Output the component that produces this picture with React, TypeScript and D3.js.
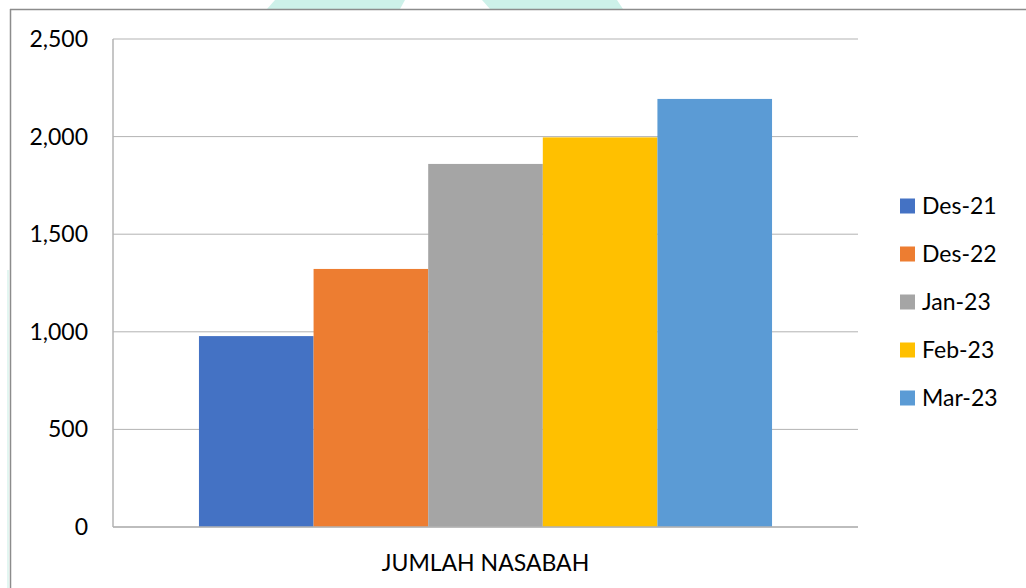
import React from "react";
import * as d3 from "d3";

const categories = ["JUMLAH NASABAH"];
const seriesNames = ["Des-21", "Des-22", "Jan-23", "Feb-23", "Mar-23"];
const seriesValues = [978, 1322, 1860, 1996, 2193];
const seriesColors = ["#4472C4", "#ED7D31", "#A5A5A5", "#FFC000", "#5B9BD5"];
const yTicks = [0, 500, 1000, 1500, 2000, 2500];

const W = 1026;
const H = 588;
const plot = { left: 113, right: 858, top: 39, bottom: 527 };
const FONT = "Lato, 'Open Sans', sans-serif";
const FS = 23;

export default function App() {
  const y = d3.scaleLinear().domain([0, 2500]).range([plot.bottom, plot.top]);
  const xCat = d3
    .scaleBand<string>()
    .domain(categories)
    .range([plot.left, plot.right])
    .paddingInner(0)
    .paddingOuter(0.15);
  const xSer = d3
    .scaleBand<string>()
    .domain(seriesNames)
    .range([0, xCat.bandwidth()])
    .padding(0);
  const fmt = d3.format(",");

  return (
    <svg
      width={W}
      height={H}
      style={{ position: "absolute", left: 0, top: 0, background: "#fff" }}
    >
      {/* faint watermark fragments */}
      <polygon points="275,0 405,0 400,9 267,9" fill="#cdf1e9" />
      <polygon points="482,0 617,0 623,9 490,9" fill="#cdf1e9" />
      <rect x={7} y={270} width={2} height={318} fill="#e3f6f1" />

      {/* chart border */}
      <line x1={10} y1={9.5} x2={W} y2={9.5} stroke="#8c8c8c" strokeWidth={1.5} />
      <line x1={10.5} y1={9} x2={10.5} y2={H} stroke="#8c8c8c" strokeWidth={1.5} />

      {/* gridlines */}
      {yTicks.map((t) => (
        <line
          key={t}
          x1={plot.left}
          x2={plot.right}
          y1={y(t)}
          y2={y(t)}
          stroke="#b3b3b3"
          strokeWidth={1}
        />
      ))}

      {/* bars */}
      {categories.map((c) =>
        seriesNames.map((s, i) => (
          <rect
            key={c + s}
            x={(xCat(c) as number) + (xSer(s) as number)}
            width={xSer.bandwidth()}
            y={y(seriesValues[i])}
            height={y(0) - y(seriesValues[i])}
            fill={seriesColors[i]}
          />
        ))
      )}

      {/* axes lines */}
      <line x1={plot.left} x2={plot.left} y1={plot.top} y2={plot.bottom} stroke="#b3b3b3" strokeWidth={1.5} />
      <line x1={plot.left} x2={plot.right} y1={plot.bottom} y2={plot.bottom} stroke="#b3b3b3" strokeWidth={1.5} />

      {/* y tick labels */}
      {yTicks.map((t) => (
        <text
          key={"l" + t}
          x={88}
          y={y(t)}
          dy="0.35em"
          textAnchor="end"
          fontFamily={FONT}
          fontSize={FS}
          fill="#000"
        >
          {fmt(t)}
        </text>
      ))}

      {/* category label */}
      {categories.map((c) => (
        <text
          key={"c" + c}
          x={(xCat(c) as number) + xCat.bandwidth() / 2}
          y={563}
          dy="0.35em"
          textAnchor="middle"
          fontFamily={FONT}
          fontSize={FS}
          fill="#000"
        >
          {c}
        </text>
      ))}

      {/* legend */}
      {seriesNames.map((s, i) => {
        const cy = 206 + i * 48;
        return (
          <g key={"lg" + s}>
            <rect x={900} y={cy - 7.5} width={15} height={15} fill={seriesColors[i]} />
            <text
              x={922}
              y={cy}
              dy="0.35em"
              fontFamily={FONT}
              fontSize={FS}
              fill="#000"
            >
              {s}
            </text>
          </g>
        );
      })}
    </svg>
  );
}
